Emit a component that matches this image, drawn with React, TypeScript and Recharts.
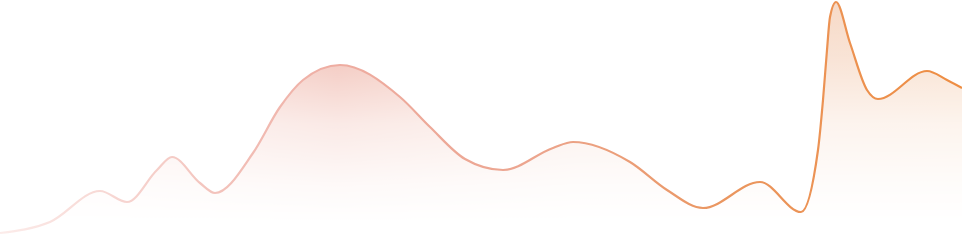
import React from 'react';
import { AreaChart, Area, XAxis, YAxis } from 'recharts';

const W = 962;
const H = 247;

// horizontal positions (px) and the wave's height above the bottom edge
const positions = [
  0, 50, 100, 127, 157, 172, 200, 215, 253, 280, 303, 340, 400, 430, 465, 503, 553, 573, 630,
  667, 703, 760, 801, 818, 823, 827, 830, 836, 850, 867, 878, 927, 947, 962,
];
const values = [
  14, 25, 56, 45, 77, 90, 64, 54, 94, 140, 167, 182, 150, 120, 88, 77, 99, 105, 85,
  57, 39, 65, 35, 97, 147, 197, 230, 245, 204, 157, 148, 176, 167, 159,
];

const data = positions.map((x, i) => ({ x, v: values[i] }));

export default function App() {
  return (
    <div style={{ position: 'absolute', left: 0, top: 0, width: W, height: H, background: '#fff' }}>
      <style>{`.recharts-area-area { mask: url(#fadeMask); }`}</style>
      <AreaChart width={W} height={H} data={data} margin={{ top: 0, right: 0, bottom: 0, left: 0 }}>
        <defs>
          <linearGradient id="strokeGrad" gradientUnits="userSpaceOnUse" x1={0} y1={0} x2={W} y2={0}>
            <stop offset="0%" stopColor="#fcecea" />
            <stop offset="12%" stopColor="#f7d6d2" />
            <stop offset="35%" stopColor="#eeaca1" />
            <stop offset="55%" stopColor="#eca58f" />
            <stop offset="75%" stopColor="#ea9660" />
            <stop offset="100%" stopColor="#ee8d42" />
          </linearGradient>
          <linearGradient id="fillGrad" gradientUnits="userSpaceOnUse" x1={0} y1={0} x2={W} y2={0}>
            <stop offset="0%" stopColor="#fbe8e5" />
            <stop offset="35%" stopColor="#efb6aa" />
            <stop offset="60%" stopColor="#f5d6ca" />
            <stop offset="100%" stopColor="#f7dac4" />
          </linearGradient>
          <linearGradient id="fadeGrad" gradientUnits="userSpaceOnUse" x1={0} y1={0} x2={0} y2={H}>
            <stop offset="0%" stopColor="#fff" stopOpacity={1} />
            <stop offset="25%" stopColor="#fff" stopOpacity={0.7} />
            <stop offset="50%" stopColor="#fff" stopOpacity={0.3} />
            <stop offset="75%" stopColor="#fff" stopOpacity={0.08} />
            <stop offset="90%" stopColor="#fff" stopOpacity={0} />
          </linearGradient>
          <mask id="fadeMask" maskUnits="userSpaceOnUse" x={0} y={0} width={W} height={H}>
            <rect x={0} y={0} width={W} height={H} fill="url(#fadeGrad)" />
          </mask>
        </defs>
        <XAxis dataKey="x" type="number" domain={[0, W]} hide />
        <YAxis domain={[0, H]} hide />
        <Area
          type="monotone"
          dataKey="v"
          stroke="url(#strokeGrad)"
          strokeWidth={2.2}
          fill="url(#fillGrad)"
          fillOpacity={1}
          dot={false}
          activeDot={false}
          isAnimationActive={false}
        />
      </AreaChart>
    </div>
  );
}
